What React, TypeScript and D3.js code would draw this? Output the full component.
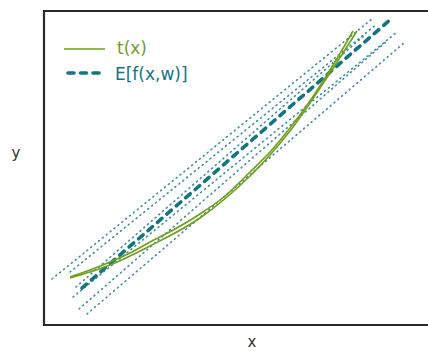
import React from "react";
import * as d3 from "d3";

// t(x): true function, drawn twice (two slightly different strands)
const trueX1 = [0.26, 0.46, 0.66, 0.86, 1.06, 1.31, 1.56, 1.81, 2.06, 2.26, 2.46, 2.66, 2.86, 3.01, 3.09];
const trueY1 = [0.48, 0.55, 0.63, 0.72, 0.83, 0.96, 1.11, 1.29, 1.53, 1.73, 1.97, 2.24, 2.55, 2.8, 2.94];
const trueX2 = [0.26, 0.66, 1.06, 1.56, 2.06, 2.46, 2.86, 3.13];
const trueY2 = [0.47, 0.6, 0.79, 1.07, 1.49, 1.94, 2.52, 2.94];

// E[f(x,w)]: mean prediction
const meanX = [0.38, 3.47];
const meanY = [0.37, 3.06];

// sampled f(x,w) lines: start (x0, y0) and end (x1, y1)
const sampleX0 = [0.08, 0.26, 0.32, 0.29, 0.35, 0.43];
const sampleY0 = [0.46, 0.53, 0.38, 0.28, 0.16, 0.11];
const sampleX1 = [3.28, 3.33, 3.22, 3.53, 3.44, 3.6];
const sampleY1 = [3.06, 3.01, 2.91, 2.93, 2.85, 2.82];

const legendLabels = ["t(x)", "E[f(x,w)]"];

const GREEN = "#6f9f1c";
const TEAL = "#137484";
const TEAL_LIGHT = "#3a8fa0";
const FONT = "'DejaVu Sans', sans-serif";

export default function App() {
  const W = 428;
  const H = 352;
  const x = d3.scaleLinear().domain([0, 4.16]).range([44, 460]);
  const y = d3.scaleLinear().domain([0, 3.16]).range([325, 9]);

  const curve = d3
    .line<[number, number]>()
    .x((d) => x(d[0]))
    .y((d) => y(d[1]))
    .curve(d3.curveCatmullRom);
  const straight = d3
    .line<[number, number]>()
    .x((d) => x(d[0]))
    .y((d) => y(d[1]));

  const t1 = trueX1.map((v, i) => [v, trueY1[i]] as [number, number]);
  const t2 = trueX2.map((v, i) => [v, trueY2[i]] as [number, number]);
  const mean = meanX.map((v, i) => [v, meanY[i]] as [number, number]);

  return (
    <svg width={W} height={H} style={{ position: "absolute", left: 0, top: 0, background: "#fff" }}>
      {sampleX0.map((_, i) => (
        <path
          key={"s" + i}
          d={straight([
            [sampleX0[i], sampleY0[i]],
            [sampleX1[i], sampleY1[i]],
          ]) || ""}
          fill="none"
          stroke={TEAL_LIGHT}
          strokeWidth={1.6}
          strokeDasharray="1 4"
          strokeLinecap="round"
        />
      ))}
      <path
        d={straight(mean) || ""}
        fill="none"
        stroke={TEAL}
        strokeWidth={3.6}
        strokeDasharray="6 6.5"
        strokeLinecap="round"
      />
      <path d={curve(t1) || ""} fill="none" stroke={GREEN} strokeWidth={1.6} />
      <path d={curve(t2) || ""} fill="none" stroke={GREEN} strokeWidth={1.6} />

      {/* frame */}
      <path
        d={`M${x(4.5)},${y(3.14)} L${x(0)},${y(3.14)} L${x(0)},${y(0)} L${x(4.5)},${y(0)}`}
        fill="none"
        stroke="#2a2a2a"
        strokeWidth={2.2}
      />

      {/* legend */}
      <line x1={64} y1={49} x2={105} y2={49} stroke={GREEN} strokeWidth={1.6} />
      <text x={117} y={54} fill={GREEN} fontFamily={FONT} fontSize={17}>
        {legendLabels[0]}
      </text>
      <line
        x1={68}
        y1={73}
        x2={103}
        y2={73}
        stroke={TEAL}
        strokeWidth={3.6}
        strokeDasharray="6 6.5"
        strokeLinecap="round"
      />
      <text x={115} y={80} fill={TEAL} fontFamily={FONT} fontSize={17}>
        {legendLabels[1]}
      </text>

      {/* axis labels */}
      <text x={252} y={347} textAnchor="middle" fill="#333" fontFamily={FONT} fontSize={15}>
        x
      </text>
      <text x={16} y={158} textAnchor="middle" fill="#333" fontFamily={FONT} fontSize={15}>
        y
      </text>
    </svg>
  );
}
